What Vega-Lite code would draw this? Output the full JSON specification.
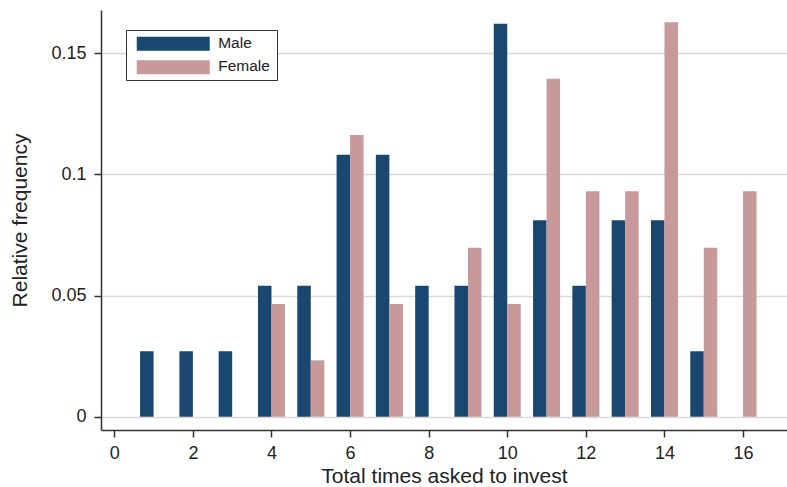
{
  "$schema": "https://vega.github.io/schema/vega-lite/v6.json",
  "width": 686,
  "height": 420,
  "autosize": "none",
  "padding": {"left": 101, "top": 10, "right": 0, "bottom": 57},
  "background": "white",
  "config": {
    "view": {"stroke": null},
    "font": "Liberation Sans",
    "axis": {
      "labelFont": "Liberation Sans",
      "titleFont": "Liberation Sans",
      "labelFontSize": 18,
      "titleFontSize": 21,
      "titleFontWeight": "normal",
      "labelColor": "#222",
      "titleColor": "#222",
      "domainColor": "#333",
      "domainWidth": 1.5,
      "tickColor": "#333",
      "tickWidth": 1.5,
      "tickSize": 7,
      "gridColor": "#d9d9d9",
      "gridWidth": 1.5
    },
    "legend": {
      "labelFont": "Liberation Sans",
      "labelFontSize": 15.5,
      "labelColor": "#222"
    }
  },
  "data": {
    "values": [
      {"times": 1, "sex": "Male", "freq": 0.02703},
      {"times": 2, "sex": "Male", "freq": 0.02703},
      {"times": 3, "sex": "Male", "freq": 0.02703},
      {"times": 4, "sex": "Male", "freq": 0.05405},
      {"times": 5, "sex": "Male", "freq": 0.05405},
      {"times": 6, "sex": "Male", "freq": 0.10811},
      {"times": 7, "sex": "Male", "freq": 0.10811},
      {"times": 8, "sex": "Male", "freq": 0.05405},
      {"times": 9, "sex": "Male", "freq": 0.05405},
      {"times": 10, "sex": "Male", "freq": 0.16216},
      {"times": 11, "sex": "Male", "freq": 0.08108},
      {"times": 12, "sex": "Male", "freq": 0.05405},
      {"times": 13, "sex": "Male", "freq": 0.08108},
      {"times": 14, "sex": "Male", "freq": 0.08108},
      {"times": 15, "sex": "Male", "freq": 0.02703},
      {"times": 4, "sex": "Female", "freq": 0.04651},
      {"times": 5, "sex": "Female", "freq": 0.02326},
      {"times": 6, "sex": "Female", "freq": 0.11628},
      {"times": 7, "sex": "Female", "freq": 0.04651},
      {"times": 9, "sex": "Female", "freq": 0.06977},
      {"times": 10, "sex": "Female", "freq": 0.04651},
      {"times": 11, "sex": "Female", "freq": 0.13953},
      {"times": 12, "sex": "Female", "freq": 0.09302},
      {"times": 13, "sex": "Female", "freq": 0.09302},
      {"times": 14, "sex": "Female", "freq": 0.16279},
      {"times": 15, "sex": "Female", "freq": 0.06977},
      {"times": 16, "sex": "Female", "freq": 0.09302}
    ]
  },
  "encoding": {
    "x": {
      "field": "times",
      "type": "quantitative",
      "scale": {"domain": [-0.338, 17.118], "nice": false, "zero": false, "padding": 0},
      "axis": {
        "title": "Total times asked to invest",
        "values": [0, 2, 4, 6, 8, 10, 12, 14, 16],
        "grid": false,
        "labelPadding": 7,
        "titlePadding": 3,
        "labelFlush": false
      }
    },
    "y": {
      "field": "freq",
      "type": "quantitative",
      "scale": {"domain": [-0.00549, 0.16787], "nice": false, "zero": false, "padding": 0},
      "axis": {
        "title": "Relative frequency",
        "values": [0, 0.05, 0.1, 0.15],
        "labelExpr": "format(datum.value, '.2~f')",
        "grid": true,
        "labelPadding": 8,
        "titlePadding": 20,
        "labelFlush": false
      }
    },
    "color": {
      "field": "sex",
      "type": "nominal",
      "scale": {"domain": ["Male", "Female"], "range": ["#1a476f", "#c8999b"]},
      "legend": {
        "title": null,
        "orient": "none",
        "legendX": 25,
        "legendY": 20,
        "strokeColor": "#333",
        "fillColor": "white",
        "padding": 5,
        "symbolType": "M-0.2857,-0.857H10.143V1.143H-0.2857Z M19,0",
        "symbolSize": 196,
        "symbolStrokeWidth": 0,
        "symbolOpacity": 1,
        "labelOffset": 71.7,
        "rowPadding": 6.5
      }
    }
  },
  "layer": [
    {
      "transform": [{"filter": "datum.sex === 'Male'"}],
      "mark": {"type": "bar", "width": 13.5, "xOffset": -6.75, "opacity": 1}
    },
    {
      "transform": [{"filter": "datum.sex === 'Female'"}],
      "mark": {"type": "bar", "width": 13.5, "xOffset": 6.75, "opacity": 1}
    }
  ]
}
